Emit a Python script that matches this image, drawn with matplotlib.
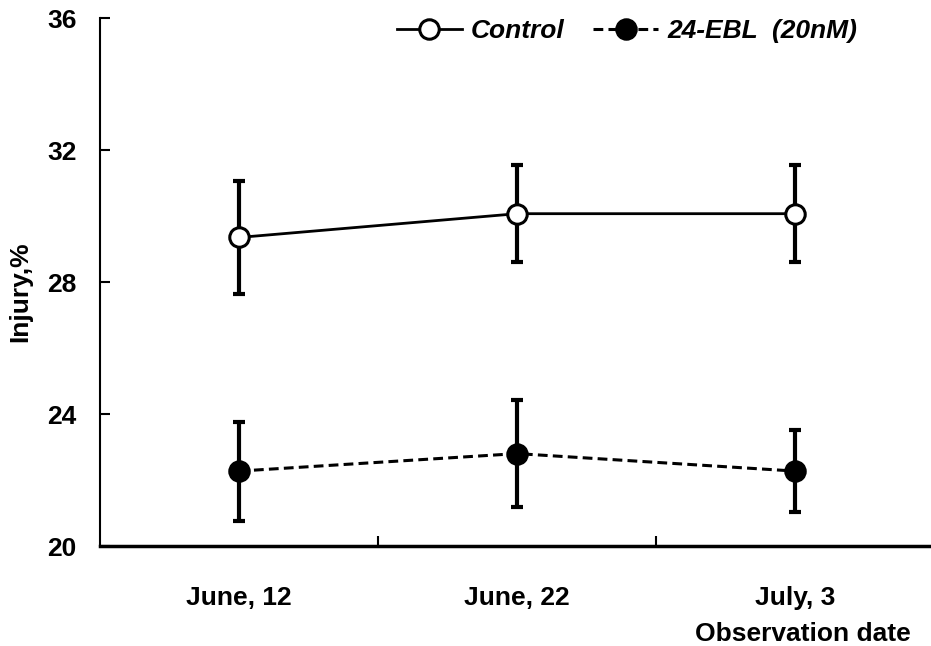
import matplotlib
matplotlib.use("Agg")
import matplotlib.pyplot as plt
import numpy as np

categories = ["June, 12", "June, 22", "July, 3"]
control = [29.35, 30.07, 30.07]
control_err = [1.70, 1.47, 1.47]
ebl = [22.27, 22.80, 22.27]
ebl_err = [1.50, 1.63, 1.25]

plt.rcParams['font.family'] = ['Liberation Sans', 'DejaVu Sans']
plt.rcParams['font.weight'] = 'bold'

fig = plt.figure(figsize=(9.31, 6.46), dpi=100)
ax = fig.add_axes([100/931, 100/646, 834/931, 528/646])
x = np.arange(len(categories))

ax.errorbar(x, control, yerr=control_err, fmt='none', ecolor='black',
            elinewidth=3.0, capsize=4.3, capthick=3.0, zorder=2)
ax.errorbar(x, ebl, yerr=ebl_err, fmt='none', ecolor='black',
            elinewidth=3.0, capsize=4.3, capthick=3.0, zorder=2)
l1, = ax.plot(x, control, '-', color='black', lw=2.0, marker='o', ms=14,
              mfc='white', mec='black', mew=2.2, zorder=3, label='Control')
l2, = ax.plot(x, ebl, '--', color='black', lw=2.2, marker='o', ms=14,
              mfc='black', mec='black', mew=2.2, zorder=3,
              dashes=(3.2, 1.7), label='24-EBL  (20nM)')

ax.set_xlim(-0.5, 2.5)
ax.set_ylim(20, 36)
ax.set_yticks([20, 24, 28, 32, 36])
ax.set_yticklabels(['20', '24', '28', '32', '36'], fontsize=19, fontweight='bold')
ax.set_xticks([0.5, 1.5])
ax.set_xticklabels([])
for xi, c in zip(x, categories):
    ax.text(xi, -0.0985, c, transform=ax.get_xaxis_transform(), ha='center',
            va='center', fontsize=19, fontweight='bold')

ax.tick_params(axis='y', direction='in', length=7, width=1.5, pad=17)
ax.tick_params(axis='x', direction='in', length=7, width=1.5)
ax.spines['top'].set_visible(False)
ax.spines['right'].set_visible(False)
ax.spines['left'].set_linewidth(1.5)
ax.spines['bottom'].set_linewidth(2.5)

fig.text(20/931, 1 - 292/646, 'Injury,%', rotation=90, ha='center', va='center',
         fontsize=19, fontweight='bold')
fig.text(911/931, 1 - 634/646, 'Observation date', ha='right', va='center',
         fontsize=19, fontweight='bold')

leg = ax.legend(handles=[l1, l2], loc='upper left', bbox_to_anchor=(389/931, 1 - 11/646),
                bbox_transform=fig.transFigure, ncol=2, frameon=False,
                prop={'size': 19, 'weight': 'bold', 'style': 'italic'},
                handlelength=2.45, handletextpad=0.34, columnspacing=1.1,
                borderaxespad=0.0, borderpad=0.3)

fig.savefig('out.png', dpi=100)
